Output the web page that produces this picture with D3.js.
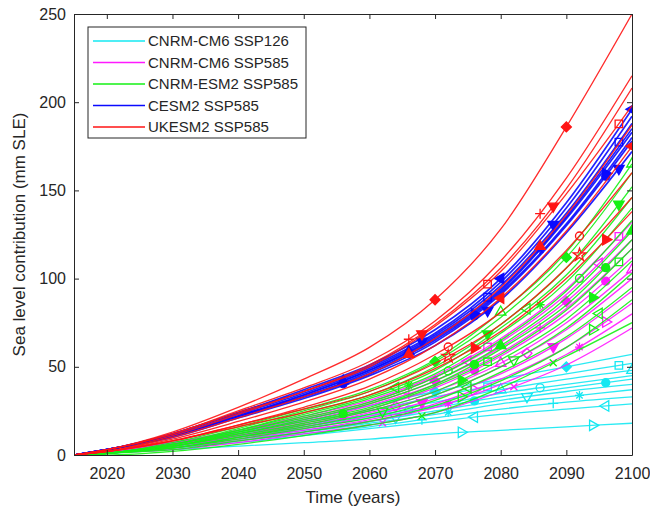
<!DOCTYPE html>
<html><head><meta charset="utf-8">
<script src="https://cdn.jsdelivr.net/npm/d3@7/dist/d3.min.js"></script>
<style>body{margin:0;background:#fff;} svg{display:block;} text{font-family:"Liberation Sans",Arial,sans-serif;fill:#262626;}</style>
</head><body><svg id="c" width="650" height="509"></svg>
<script>
const years = [2015, 2020, 2030, 2040, 2050, 2060, 2070, 2080, 2090, 2100];
const xTicks = [2020, 2030, 2040, 2050, 2060, 2070, 2080, 2090, 2100];
const yTicks = [0, 50, 100, 150, 200, 250];
const legendLabels = ["CNRM-CM6 SSP126", "CNRM-CM6 SSP585", "CNRM-ESM2 SSP585", "CESM2 SSP585", "UKESM2 SSP585"];
const groupColors = ["#14e8f2", "#ff1aff", "#14f014", "#0a0aff", "#ff1414"];

const cnrmCm6Ssp126 = [
  [0, 2, 7, 13, 20, 28, 36, 43, 50, 57],
  [0, 2, 7, 13, 19, 25, 33, 40, 46, 52],
  [0, 2, 6, 12, 17, 23, 30, 37, 43, 48],
  [0, 2, 6, 11, 16, 22, 28, 35, 40, 45],
  [0, 2, 6, 11, 15, 21, 27, 33, 38, 43],
  [0, 2, 5, 10, 14, 19, 25, 31, 36, 40],
  [0, 1, 5, 9, 13, 18, 23, 29, 33, 37],
  [0, 1, 4, 8, 12, 16, 21, 26, 30, 33],
  [0, 1, 4, 7, 11, 15, 19, 23, 26, 29],
  [0, 1, 3, 5, 7, 9, 12, 14, 16, 18]
];
const cnrmCm6Ssp126Markers = [
  ["d", 1, [2070, 2090]], ["s", 0, [2078, 2098]], ["^", 0, [2080, 2100]], ["o", 0, [2066, 2086]],
  ["o", 1, [2076, 2096]], ["v", 0, [2064, 2084]], ["*", 0, [2072, 2092]], ["+", 0, [2068, 2088]],
  ["<", 0, [2076, 2096]], [">", 0, [2074, 2094]]
];

const cnrmCm6Ssp585 = [
  [0, 2, 7, 14, 22, 31, 45, 66, 94, 132],
  [0, 2, 7, 14, 21, 30, 44, 64, 91, 128],
  [0, 2, 6, 13, 20, 29, 42, 61, 87, 122],
  [0, 2, 6, 12, 19, 28, 40, 58, 83, 117],
  [0, 2, 6, 12, 18, 26, 38, 56, 80, 112],
  [0, 1, 5, 11, 17, 25, 36, 52, 75, 105],
  [0, 1, 5, 11, 16, 24, 34, 50, 71, 100],
  [0, 1, 5, 10, 15, 22, 32, 46, 66, 93],
  [0, 1, 4, 9, 14, 20, 29, 43, 61, 86],
  [0, 1, 4, 8, 13, 19, 27, 40, 57, 80],
  [0, 1, 3, 7, 12, 17, 24, 36, 51, 72]
];
const cnrmCm6Ssp585Markers = [
  ["s", 0, [2078, 2098]], ["<", 0, [2075, 2095]], ["d", 1, [2070, 2090]], ["+", 0, [2066, 2086]],
  ["o", 1, [2056, 2076, 2096]], ["^", 0, [2080, 2100]], ["d", 0, [2064, 2084]], ["v", 1, [2068, 2088]],
  [">", 0, [2076, 2096]], ["*", 0, [2072, 2092]], ["x", 0, [2062, 2082]]
];

const cnrmEsm2Ssp585 = [
  [0, 1, 7, 16, 26, 37, 54, 81, 115, 165],
  [0, 1, 6, 15, 25, 36, 53, 78, 112, 160],
  [0, 1, 6, 14, 24, 34, 50, 74, 106, 152],
  [0, 1, 6, 14, 23, 33, 48, 72, 102, 146],
  [0, 1, 6, 13, 22, 32, 46, 69, 98, 140],
  [0, 1, 5, 13, 21, 30, 44, 65, 93, 133],
  [0, 1, 5, 12, 20, 29, 42, 62, 89, 127],
  [0, 1, 5, 12, 19, 27, 40, 60, 85, 122],
  [0, 1, 5, 11, 18, 26, 39, 57, 82, 117],
  [0, 1, 4, 10, 17, 25, 36, 54, 77, 110],
  [0, 1, 4, 10, 16, 23, 34, 50, 72, 103],
  [0, 1, 4, 9, 15, 21, 31, 47, 67, 95],
  [0, 1, 3, 8, 13, 19, 28, 42, 61, 88],
  [0, 0, 2, 6, 11, 17, 24, 38, 56, 75]
];
const cnrmEsm2Ssp585Markers = [
  ["^", 0, [2080, 2100]], ["d", 1, [2070, 2090]], ["v", 1, [2078, 2098]], ["<", 0, [2064, 2084]],
  ["*", 0, [2066, 2086]], ["o", 0, [2072, 2092]], ["^", 1, [2080, 2100]], ["o", 1, [2056, 2076, 2096]],
  ["s", 0, [2078, 2098]], [">", 1, [2074, 2094]], ["v", 0, [2062, 2082]], ["<", 0, [2075, 2095]],
  [">", 0, [2074, 2094]], ["x", 0, [2068, 2088]]
];

const cesm2Ssp585 = [
  [0, 3, 12, 24, 37, 51, 71, 100, 143, 196],
  [0, 3, 12, 24, 36, 50, 69, 98, 140, 192],
  [0, 3, 11, 23, 35, 49, 68, 96, 137, 188],
  [0, 3, 11, 22, 34, 48, 67, 94, 135, 185],
  [0, 3, 11, 22, 34, 48, 66, 93, 134, 183],
  [0, 3, 11, 22, 33, 47, 65, 92, 131, 180],
  [0, 3, 11, 22, 33, 46, 64, 91, 130, 178],
  [0, 3, 10, 21, 32, 45, 62, 88, 126, 172]
];
const cesm2Ssp585Markers = [
  ["<", 1, [2080, 2100]], ["v", 1, [2068, 2088]], ["s", 0, [2078, 2098]], ["^", 1, [2056, 2066]],
  ["*", 0, [2066, 2086]], [">", 1, [2076, 2096]], ["o", 1, [2056, 2076, 2096]], ["v", 1, [2078, 2098]]
];

const ukesm2Ssp585 = [
  [0, 3, 13, 27, 43, 61, 88, 128, 186, 250],
  [0, 3, 12, 25, 38, 53, 76, 110, 157, 215],
  [0, 3, 12, 24, 36, 51, 74, 106, 151, 208],
  [0, 2, 11, 23, 36, 50, 73, 104, 148, 198],
  [0, 2, 10, 21, 33, 46, 66, 95, 136, 187],
  [0, 2, 9, 19, 30, 43, 62, 89, 127, 175],
  [0, 2, 8, 17, 27, 39, 57, 81, 116, 160],
  [0, 2, 8, 17, 26, 36, 52, 74, 106, 146],
  [0, 2, 8, 16, 24, 34, 49, 70, 100, 138]
];
const ukesm2Ssp585Markers = [
  ["d", 1, [2070, 2090]], ["+", 0, [2066, 2086]], ["v", 1, [2068, 2088]], ["s", 0, [2078, 2098]],
  ["^", 1, [2066, 2086]], ["<", 1, [2080, 2100]], ["o", 0, [2072, 2092]], ["h", 0, [2072, 2092]],
  [">", 1, [2076, 2096]]
];

const groups = [
  [cnrmCm6Ssp126, cnrmCm6Ssp126Markers],
  [cnrmCm6Ssp585, cnrmCm6Ssp585Markers],
  [cnrmEsm2Ssp585, cnrmEsm2Ssp585Markers],
  [cesm2Ssp585, cesm2Ssp585Markers],
  [ukesm2Ssp585, ukesm2Ssp585Markers]
];

const svg = d3.select("#c");
const L = 74, R = 632, T = 14, B = 455;
const x = d3.scaleLinear().domain([2015, 2100]).range([L, R]);
const y = d3.scaleLinear().domain([0, 250]).range([B, T]);

svg.append("clipPath").attr("id", "clip").append("rect")
  .attr("x", L).attr("y", T).attr("width", R - L).attr("height", B - T);

const plot = svg.append("g").attr("clip-path", "url(#clip)");
const line = d3.line().x((d, i) => x(years[i])).y(d => y(d)).curve(d3.curveMonotoneX);

function markerPath(sym) {
  switch (sym) {
    case "o": return d3.symbol(d3.symbolCircle, 50)();
    case "s": return d3.symbol(d3.symbolSquare, 56)();
    case "d": return d3.symbol(d3.symbolSquare, 50)();
    case "^": case "v": case "<": case ">": return d3.symbol(d3.symbolTriangle, 48)();
    case "+": return "M-5,0H5M0,-5V5";
    case "x": return "M-3.5,-3.5L3.5,3.5M-3.5,3.5L3.5,-3.5";
    case "*": return "M-4.5,0H4.5M0,-4.5V4.5M-3.2,-3.2L3.2,3.2M-3.2,3.2L3.2,-3.2";
    case "h": return d3.symbol(d3.symbolStar, 50)();
  }
}
function markerRot(sym) {
  return {"d": 45, "v": 180, "<": -90, ">": 90}[sym] || 0;
}
function pointAtX(node, px) {
  const len = node.getTotalLength();
  let lo = 0, hi = len;
  for (let k = 0; k < 40; k++) {
    const mid = (lo + hi) / 2;
    if (node.getPointAtLength(mid).x < px) lo = mid; else hi = mid;
  }
  return node.getPointAtLength((lo + hi) / 2);
}

groups.forEach(([series, markers], gi) => {
  const col = groupColors[gi];
  series.forEach((vals, si) => {
    const p = plot.append("path").attr("d", line(vals))
      .attr("fill", "none").attr("stroke", col).attr("stroke-width", gi === 3 ? 1.7 : 1.3)
      .attr("stroke-opacity", 0.9);
    const [sym, filled, myears] = markers[si];
    const lineLike = (sym === "+" || sym === "x" || sym === "*");
    myears.forEach(yr => {
      const pt = pointAtX(p.node(), x(yr));
      plot.append("path").attr("d", markerPath(sym))
        .attr("transform", `translate(${pt.x},${pt.y}) rotate(${markerRot(sym)})`)
        .attr("fill", filled && !lineLike ? col : "none")
        .attr("stroke", col).attr("stroke-width", 1.3);
    });
  });
});

// Axes (MATLAB style, inward ticks, box)
const axCol = "#262626";
function styleAxis(g) {
  g.selectAll("path.domain").attr("stroke", axCol).attr("stroke-width", 1);
  g.selectAll(".tick line").attr("stroke", axCol).attr("stroke-width", 1);
  g.selectAll("text").attr("fill", axCol).style("font-size", "16px")
    .style("font-family", '"Liberation Sans",Arial,sans-serif');
}
svg.append("g").attr("transform", `translate(0,${B})`)
  .call(d3.axisBottom(x).tickValues(xTicks).tickSize(-5).tickSizeOuter(0).tickPadding(13).tickFormat(d3.format("d")))
  .call(styleAxis);
svg.append("g").attr("transform", `translate(0,${T})`)
  .call(d3.axisTop(x).tickValues(xTicks).tickSize(-5).tickSizeOuter(0).tickFormat(""))
  .call(styleAxis);
svg.append("g").attr("transform", `translate(${L},0)`)
  .call(d3.axisLeft(y).tickValues(yTicks).tickSize(-5).tickSizeOuter(0).tickPadding(8))
  .call(styleAxis);
svg.append("g").attr("transform", `translate(${R},0)`)
  .call(d3.axisRight(y).tickValues(yTicks).tickSize(-5).tickSizeOuter(0).tickFormat(""))
  .call(styleAxis);

svg.append("text").attr("x", (L + R) / 2).attr("y", 503).attr("text-anchor", "middle")
  .style("font-size", "17px").text("Time (years)");
svg.append("text").attr("transform", `translate(25,${(T + B) / 2}) rotate(-90)`)
  .attr("text-anchor", "middle").style("font-size", "17px").text("Sea level contribution (mm SLE)");

// Legend
const lg = svg.append("g");
lg.append("rect").attr("x", 88).attr("y", 27).attr("width", 218).attr("height", 111)
  .attr("fill", "#fff").attr("stroke", axCol).attr("stroke-width", 1);
legendLabels.forEach((lab, i) => {
  const yy = 41 + i * 21.5;
  lg.append("line").attr("x1", 93).attr("x2", 145).attr("y1", yy).attr("y2", yy)
    .attr("stroke", groupColors[i]).attr("stroke-width", 1.5);
  lg.append("text").attr("x", 148).attr("y", yy).attr("dy", "0.36em")
    .style("font-size", "15px").text(lab);
});
</script></body></html>
